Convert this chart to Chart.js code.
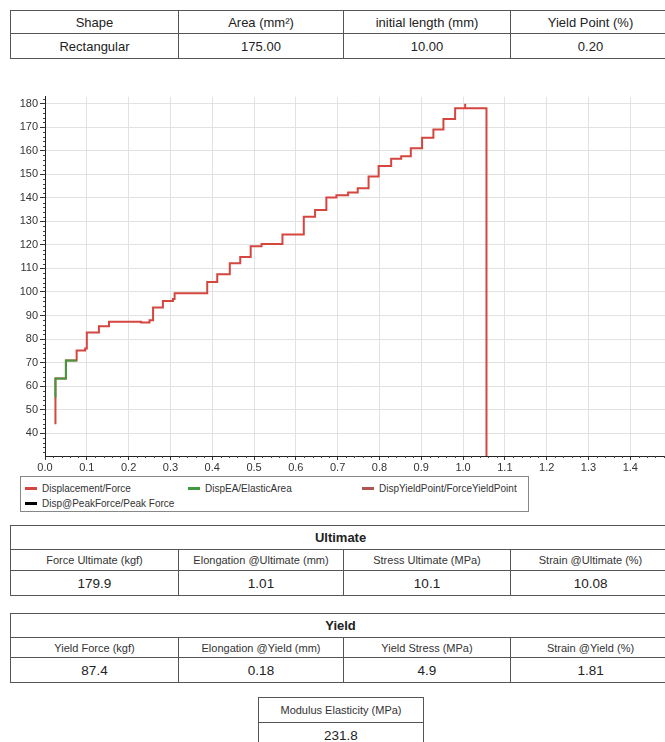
<!DOCTYPE html>
<html>
<head>
<meta charset="utf-8">
<script src="https://cdn.jsdelivr.net/npm/chart.js@4/dist/chart.umd.min.js"></script>
<style>
  body { margin:0; width:665px; height:742px; overflow:hidden; background:#fff; position:relative;
         font-family:"Liberation Sans", Arial, sans-serif; color:#222; }
  table { position:absolute; border-collapse:collapse; table-layout:fixed; }
  td { border:1px solid #555; text-align:center; padding:0; white-space:nowrap; overflow:hidden; }
  .big td { font-size:13px; }
  .sub { font-size:11px; color:#333; }
  .val { font-size:13.5px; }
  .ttl { font-weight:bold; font-size:13px; }
  #chartBox { position:absolute; left:0; top:88px; }
  #legend { position:absolute; left:20px; top:476px; width:507px; height:34px; border:1px solid #888;
            font-size:10px; color:#333; }
  .li { position:absolute; white-space:nowrap; }
  .li span { display:inline-block; width:12px; height:3px; vertical-align:middle; margin-right:5px; position:relative; top:-1px; }
</style>
</head>
<body>

<table class="big" style="left:10px;top:10px;width:660px">
  <colgroup><col style="width:168px"><col style="width:165px"><col style="width:167px"><col style="width:160px"></colgroup>
  <tr style="height:23px"><td>Shape</td><td>Area (mm²)</td><td>initial length (mm)</td><td>Yield Point (%)</td></tr>
  <tr style="height:25px"><td>Rectangular</td><td>175.00</td><td>10.00</td><td>0.20</td></tr>
</table>

<div id="chartBox"><canvas id="ForceChart" width="665" height="388"></canvas></div>
<div id="legend"></div>

<table style="left:10px;top:525px;width:660px">
  <colgroup><col style="width:168px"><col style="width:165px"><col style="width:167px"><col style="width:160px"></colgroup>
  <tr style="height:24px"><td colspan="4" class="ttl">Ultimate</td></tr>
  <tr style="height:21px" class="sub"><td>Force Ultimate (kgf)</td><td>Elongation @Ultimate (mm)</td><td>Stress Ultimate (MPa)</td><td>Strain @Ultimate (%)</td></tr>
  <tr style="height:25px" class="val"><td>179.9</td><td>1.01</td><td>10.1</td><td>10.08</td></tr>
</table>

<table style="left:10px;top:613px;width:660px">
  <colgroup><col style="width:168px"><col style="width:165px"><col style="width:167px"><col style="width:160px"></colgroup>
  <tr style="height:24px"><td colspan="4" class="ttl">Yield</td></tr>
  <tr style="height:20px" class="sub"><td>Yield Force (kgf)</td><td>Elongation @Yield (mm)</td><td>Yield Stress (MPa)</td><td>Strain @Yield (%)</td></tr>
  <tr style="height:25px" class="val"><td>87.4</td><td>0.18</td><td>4.9</td><td>1.81</td></tr>
</table>

<table style="left:258px;top:697px;width:166px">
  <tr style="height:25px" class="sub"><td>Modulus Elasticity (MPa)</td></tr>
  <tr style="height:25px" class="val"><td>231.8</td></tr>
</table>

<script>
// displacement (mm) where each force level ends, and force (kgf) of the next level
var dispSteps = [0.025, 0.025, 0.050, 0.0757, 0.096, 0.100, 0.129, 0.153, 0.230, 0.250, 0.2585, 0.282, 0.306, 0.310,
                 0.388, 0.412, 0.442, 0.467, 0.492, 0.518, 0.568, 0.619, 0.646, 0.673, 0.697, 0.725, 0.748, 0.774,
                 0.798, 0.828, 0.852, 0.875, 0.902, 0.929, 0.953, 0.981, 1.005, 1.005, 1.056];
var forceSteps = [43.8, 63.2, 70.9, 75.1, 76.0, 82.8, 85.4, 87.3, 87.0, 88.0, 93.4, 96.2, 97.0, 99.5,
                  104.2, 107.5, 112.2, 114.8, 119.4, 120.4, 124.4, 132.0, 134.8, 140.1, 141.1, 142.3, 144.1, 149.0,
                  153.5, 156.6, 157.7, 161.1, 165.5, 169.0, 173.5, 178.0, 180.0, 178.0, 30.0];

// elastic area part
var elasticDisp = [0.025, 0.025, 0.050, 0.0757];
var elasticForce = [55.0, 63.2, 70.9, 70.9];

var yieldDisp = [0.18], yieldForce = [87.4];
var peakDisp = [1.01], peakForce = [179.9];

var xTicks = [0.0, 0.1, 0.2, 0.3, 0.4, 0.5, 0.6, 0.7, 0.8, 0.9, 1.0, 1.1, 1.2, 1.3, 1.4];
var yTicks = [40, 50, 60, 70, 80, 90, 100, 110, 120, 130, 140, 150, 160, 170, 180];

function toPoints(xs, ys){
	var out = [];
	for(var i=0; i<xs.length; i++){ out.push({x: xs[i], y: ys[i]}); }
	return out;
}

var seriesList = [
	{label: 'Displacement/Force', color: '#d4463f', data: toPoints(dispSteps, forceSteps), order: 2, width: 2},
	{label: 'DispEA/ElasticArea', color: '#3f9a3f', data: toPoints(elasticDisp, elasticForce), order: 1, width: 2},
	{label: 'DispYieldPoint/ForceYieldPoint', color: '#b05450', data: toPoints(yieldDisp, yieldForce), order: 0, width: 0},
	{label: 'Disp@PeakForce/Peak Force', color: '#000000', data: toPoints(peakDisp, peakForce), order: 0, width: 0}
];

//small minor tick marks along both axes
var minorTicks = {
	id: 'minorTicks',
	afterDraw: function(chart){
		var ctx = chart.ctx, xs = chart.scales.x, ys = chart.scales.y, a = chart.chartArea;
		ctx.save();
		ctx.strokeStyle = '#444';
		ctx.lineWidth = 1;
		ctx.beginPath();
		for(var v=32; v<183; v+=2){
			if(v % 10 == 0) continue;
			var py = Math.round(ys.getPixelForValue(v)) + 0.5;
			ctx.moveTo(a.left - 2, py); ctx.lineTo(a.left, py);
		}
		for(var k=1; k<75; k++){
			if(k % 5 == 0) continue;
			var px = Math.round(xs.getPixelForValue(k*0.02)) + 0.5;
			if(px > a.right) break;
			ctx.moveTo(px, a.bottom); ctx.lineTo(px, a.bottom + 2);
		}
		ctx.stroke();
		ctx.restore();
	}
};

var chart = new Chart("ForceChart", {
	type: 'line',
	data: {
		datasets: seriesList.map(function(s){
			return {
				label: s.label,
				data: s.data,
				borderColor: s.color,
				backgroundColor: s.color,
				borderWidth: s.width,
				showLine: s.width > 0,
				stepped: 'before',
				pointRadius: 0,
				fill: false,
				order: s.order
			};
		})
	},
	options: {
		responsive: false,
		animation: false,
		layout: { padding: { top: 7, right: 0, left: 0, bottom: 0 } },
		plugins: { legend: { display: false }, tooltip: { enabled: false } },
		scales: {
			x: {
				type: 'linear',
				min: 0, max: 1.483,
				afterFit: function(s){ s.height = 20; },
				afterBuildTicks: function(s){ s.ticks = xTicks.map(function(v){ return {value: v}; }); },
				ticks: { includeBounds: false, padding: 1, color: '#333', maxRotation: 0,
				         font: { family: 'Liberation Sans', size: 11 },
				         callback: function(v){ return v.toFixed(1); } },
				grid: { color: '#e2e2e2', tickColor: '#333', tickLength: 4 },
				border: { color: '#222', width: 1 }
			},
			y: {
				min: 30.3, max: 183,
				afterFit: function(s){ s.width = 45; },
				afterBuildTicks: function(s){ s.ticks = yTicks.map(function(v){ return {value: v}; }); },
				ticks: { includeBounds: false, padding: 2, color: '#333',
				         font: { family: 'Liberation Sans', size: 11 } },
				grid: { color: '#e2e2e2', tickColor: '#333', tickLength: 5 },
				border: { color: '#222', width: 1 }
			}
		}
	},
	plugins: [minorTicks]
});

//legend as a boxed list, three columns
var legendPos = [[4, 6], [167, 6], [341, 6], [4, 21]];
var legendBox = document.getElementById('legend');
seriesList.forEach(function(s, i){
	var d = document.createElement('div');
	d.className = 'li';
	d.style.left = legendPos[i][0] + 'px';
	d.style.top = legendPos[i][1] + 'px';
	d.innerHTML = '<span style="background:' + s.color + '"></span>' + s.label;
	legendBox.appendChild(d);
});
</script>
</body>
</html>
